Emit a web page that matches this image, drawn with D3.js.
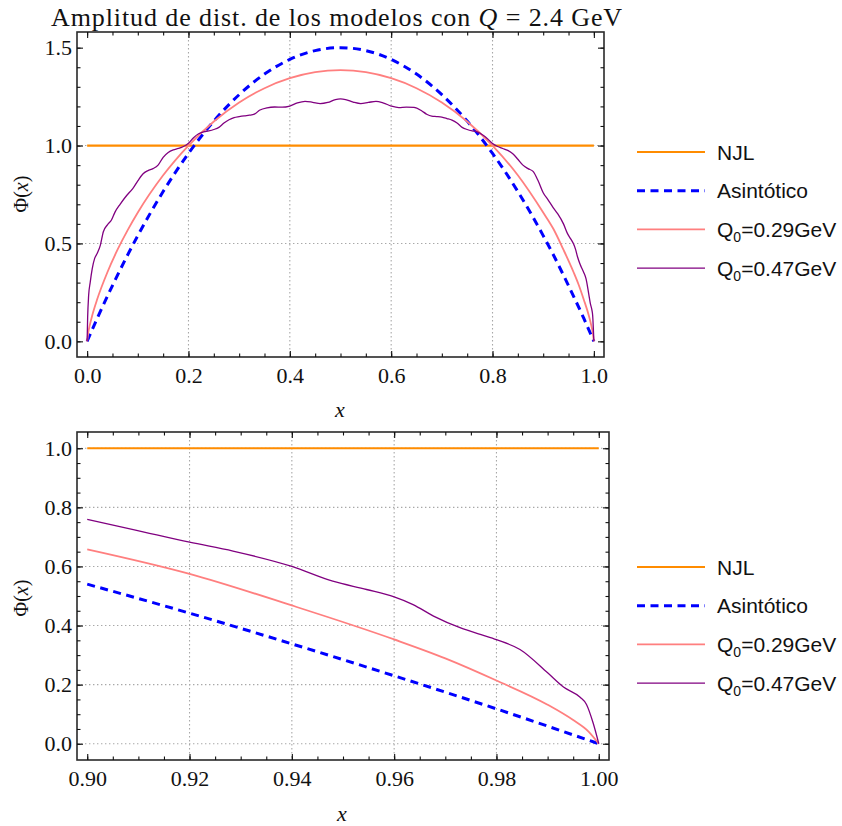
<!DOCTYPE html>
<html>
<head>
<meta charset="utf-8">
<script src="https://cdn.jsdelivr.net/npm/d3@7"></script>
<style>
  body { margin: 0; background: #fff; }
  svg { display: block; }
</style>
</head>
<body>
<svg width="842" height="826"></svg>
<script>
// ----- données -----
const xNJL = [0, 0.9, 1];
const yNJL = [1, 1, 1];

const xAsin = [0, 0.02, 0.05, 0.1, 0.15, 0.2, 0.25, 0.3, 0.35, 0.4, 0.45, 0.5,
  0.55, 0.6, 0.65, 0.7, 0.75, 0.8, 0.85, 0.9, 0.92, 0.94, 0.96, 0.98, 1];
const yAsin = [0, 0.118, 0.285, 0.54, 0.765, 0.96, 1.125, 1.26, 1.365, 1.44, 1.485, 1.5,
  1.485, 1.44, 1.365, 1.26, 1.125, 0.96, 0.765, 0.54, 0.442, 0.338, 0.23, 0.118, 0];

const xQ029 = [0, 0.002, 0.005, 0.01, 0.02, 0.04, 0.06, 0.08, 0.1, 0.15, 0.2, 0.25, 0.3,
  0.35, 0.4, 0.45, 0.5, 0.55, 0.6, 0.65, 0.7, 0.75, 0.8, 0.85, 0.9, 0.92, 0.94, 0.96,
  0.97, 0.98, 0.99, 0.995, 0.998, 1];
const yQ029 = [0, 0.041, 0.08, 0.132, 0.216, 0.353, 0.468, 0.568, 0.658, 0.848, 1.0, 1.123, 1.22,
  1.293, 1.344, 1.375, 1.385, 1.375, 1.344, 1.293, 1.22, 1.123, 1.0, 0.848, 0.658, 0.575, 0.468, 0.353,
  0.289, 0.214, 0.132, 0.08, 0.041, 0];

const xQ047 = [0, 0.001, 0.003, 0.006, 0.01, 0.015, 0.02, 0.026, 0.032, 0.04,
  0.048, 0.055, 0.065, 0.078, 0.09, 0.1, 0.11, 0.12, 0.13, 0.14,
  0.15, 0.16, 0.17, 0.18, 0.19, 0.2, 0.21, 0.22, 0.23, 0.24,
  0.25, 0.26, 0.27, 0.28, 0.29, 0.3, 0.31, 0.32, 0.33, 0.34,
  0.355, 0.37, 0.385, 0.4, 0.415, 0.43, 0.445, 0.46, 0.475, 0.49,
  0.5, 0.51, 0.525, 0.54, 0.555, 0.57, 0.585, 0.6, 0.615, 0.63,
  0.645, 0.66, 0.67, 0.68, 0.69, 0.7, 0.71, 0.72, 0.73, 0.74,
  0.75, 0.76, 0.77, 0.78, 0.79, 0.8, 0.81, 0.82, 0.83, 0.84,
  0.85, 0.86, 0.87, 0.88, 0.89, 0.9, 0.909, 0.92, 0.9285, 0.94,
  0.948, 0.9546, 0.96, 0.9637, 0.9677, 0.973, 0.977, 0.98, 0.9846, 0.99,
  0.9931, 0.9963, 0.9976, 0.9989, 1];
const yQ047 = [0, 0.12, 0.235, 0.3, 0.37, 0.425, 0.45, 0.49, 0.56, 0.595,
  0.62, 0.66, 0.7, 0.745, 0.78, 0.82, 0.855, 0.872, 0.882, 0.9,
  0.94, 0.965, 0.978, 0.985, 0.995, 1.012, 1.04, 1.06, 1.07, 1.075,
  1.082, 1.093, 1.115, 1.132, 1.143, 1.148, 1.152, 1.155, 1.16, 1.18,
  1.193, 1.197, 1.196, 1.202, 1.218, 1.226, 1.221, 1.214, 1.22, 1.235,
  1.238, 1.235, 1.222, 1.214, 1.22, 1.226, 1.217, 1.202, 1.194, 1.196,
  1.195, 1.178, 1.16, 1.15, 1.148, 1.145, 1.138, 1.13, 1.115, 1.093,
  1.082, 1.075, 1.07, 1.055, 1.035, 1.01, 0.995, 0.985, 0.975, 0.958,
  0.93, 0.9, 0.882, 0.868, 0.82, 0.759, 0.725, 0.682, 0.652, 0.6,
  0.55, 0.522, 0.497, 0.471, 0.432, 0.392, 0.369, 0.352, 0.319, 0.24,
  0.192, 0.158, 0.133, 0.07, 0];

const legendLabels = ["NJL", "Asintótico", "Q_0=0.29GeV", "Q_0=0.47GeV"];

// graduations
const xTicksTop = [0, 0.2, 0.4, 0.6, 0.8, 1.0];
const yTicksTop = [0, 0.5, 1.0, 1.5];
const xTicksBot = [0.9, 0.92, 0.94, 0.96, 0.98, 1.0];
const yTicksBot = [0, 0.2, 0.4, 0.6, 0.8, 1.0];

const serif = "'Liberation Serif', 'DejaVu Serif', serif";
const sans = "'Liberation Sans', Arial, sans-serif";

const series = [
  { xs: xNJL, ys: yNJL, color: "#ff8c00", width: 2.2, dash: null },
  { xs: xAsin, ys: yAsin, color: "#0000ff", width: 3, dash: "8,5.5" },
  { xs: xQ029, ys: yQ029, color: "#ff7f7f", width: 1.8, dash: null },
  { xs: xQ047, ys: yQ047, color: "#800080", width: 1.3, dash: null },
];

const panels = [
  {
    left: 77, right: 604, top: 32, bottom: 357,
    xDom: [-0.02, 1.02], yDom: [-0.08, 1.58],
    xTicks: xTicksTop, yTicks: yTicksTop,
    xMinor: d3.range(0, 1.0001, 0.05), yMinor: d3.range(0, 1.5001, 0.1),
    xGrid: [0.2, 0.4, 0.6, 0.8], yGrid: [0.5, 1.0],
    xFmt: d3.format(".1f"), xmin: 0,
    legendY: 152, xLabel: [340, 417], yLabelY: 194,
  },
  {
    left: 77, right: 609, top: 432, bottom: 760,
    xDom: [0.898, 1.002], yDom: [-0.055, 1.055],
    xTicks: xTicksBot, yTicks: yTicksBot,
    xMinor: d3.range(0.9, 1.0001, 0.005), yMinor: d3.range(0, 1.0001, 0.05),
    xGrid: [0.92, 0.94, 0.96, 0.98], yGrid: [0, 0.2, 0.4, 0.6, 0.8, 1.0],
    xFmt: d3.format(".2f"), xmin: 0.9,
    legendY: 567, xLabel: [342, 821], yLabelY: 598,
  },
];

const svg = d3.select("svg");

// titre
const title = svg.append("text")
  .attr("x", 337).attr("y", 26)
  .attr("text-anchor", "middle")
  .attr("font-family", serif).attr("font-size", 26)
  .attr("letter-spacing", 0.9).attr("fill", "#111");
title.append("tspan").text("Amplitud de dist. de los modelos con ");
title.append("tspan").attr("font-style", "italic").text("Q");
title.append("tspan").text(" = 2.4 GeV");

panels.forEach((p) => {
  const x = d3.scaleLinear().domain(p.xDom).range([p.left, p.right]);
  const y = d3.scaleLinear().domain(p.yDom).range([p.bottom, p.top]);
  const g = svg.append("g");

  // grille pointillée
  g.selectAll(".gx").data(p.xGrid).enter().append("line")
    .attr("x1", (d) => x(d)).attr("x2", (d) => x(d))
    .attr("y1", p.top).attr("y2", p.bottom)
    .attr("stroke", "#a8a8a8").attr("stroke-width", 1.1)
    .attr("stroke-dasharray", "1.4,2.6");
  g.selectAll(".gy").data(p.yGrid).enter().append("line")
    .attr("x1", p.left).attr("x2", p.right)
    .attr("y1", (d) => y(d)).attr("y2", (d) => y(d))
    .attr("stroke", "#a8a8a8").attr("stroke-width", 1.1)
    .attr("stroke-dasharray", "1.4,2.6");

  // courbes
  const line = d3.line()
    .x((d) => x(d.x))
    .y((d) => y(d.y))
    .curve(d3.curveMonotoneX);

  series.forEach((s) => {
    const pts = s.xs.map((v, i) => ({ x: v, y: s.ys[i] }))
      .filter((d) => d.x >= p.xmin - 1e-9);
    g.append("path")
      .datum(pts)
      .attr("fill", "none")
      .attr("stroke", s.color)
      .attr("stroke-width", s.width)
      .attr("stroke-dasharray", s.dash)
      .attr("stroke-linejoin", "round")
      .attr("d", line);
  });

  // cadre
  g.append("rect")
    .attr("x", p.left).attr("y", p.top)
    .attr("width", p.right - p.left).attr("height", p.bottom - p.top)
    .attr("fill", "none").attr("stroke", "#2a2a2a").attr("stroke-width", 1.6);

  const styleAxis = (sel) => {
    sel.select(".domain").remove();
    sel.selectAll("line").attr("stroke", "#111").attr("stroke-width", 1.1);
    sel.selectAll("text").attr("font-family", serif).attr("font-size", 22).attr("fill", "#111");
  };

  // axes principaux (ticks vers l'intérieur)
  g.append("g").attr("transform", "translate(0," + p.bottom + ")")
    .call(d3.axisBottom(x).tickValues(p.xTicks).tickFormat(p.xFmt)
      .tickSizeInner(-6).tickSizeOuter(0).tickPadding(10))
    .call(styleAxis);
  g.append("g").attr("transform", "translate(" + p.left + ",0)")
    .call(d3.axisLeft(y).tickValues(p.yTicks).tickFormat(d3.format(".1f"))
      .tickSizeInner(-6).tickSizeOuter(0).tickPadding(5))
    .call(styleAxis);
  g.append("g").attr("transform", "translate(0," + p.top + ")")
    .call(d3.axisTop(x).tickValues(p.xTicks).tickFormat("")
      .tickSizeInner(-6).tickSizeOuter(0))
    .call(styleAxis);
  g.append("g").attr("transform", "translate(" + p.right + ",0)")
    .call(d3.axisRight(y).tickValues(p.yTicks).tickFormat("")
      .tickSizeInner(-6).tickSizeOuter(0))
    .call(styleAxis);

  // ticks mineurs
  [[d3.axisBottom(x), p.xMinor, "0," + p.bottom],
   [d3.axisTop(x), p.xMinor, "0," + p.top],
   [d3.axisLeft(y), p.yMinor, p.left + ",0"],
   [d3.axisRight(y), p.yMinor, p.right + ",0"]].forEach(([ax, vals, tr]) => {
    g.append("g").attr("transform", "translate(" + tr + ")")
      .call(ax.tickValues(vals).tickFormat("").tickSizeInner(-3.5).tickSizeOuter(0))
      .call(styleAxis);
  });

  // titres des axes
  const yl = g.append("text")
    .attr("transform", "translate(28," + p.yLabelY + ") rotate(-90)")
    .attr("text-anchor", "middle")
    .attr("font-family", serif).attr("font-size", 20).attr("fill", "#111");
  yl.append("tspan").text("Φ(");
  yl.append("tspan").attr("font-style", "italic").text("x");
  yl.append("tspan").text(")");

  g.append("text")
    .attr("x", p.xLabel[0]).attr("y", p.xLabel[1])
    .attr("text-anchor", "middle")
    .attr("font-family", serif).attr("font-style", "italic")
    .attr("font-size", 22).attr("fill", "#111")
    .text("x");

  // légende
  const leg = g.append("g");
  series.forEach((s, i) => {
    const ly = p.legendY + i * 38.7;
    leg.append("line")
      .attr("x1", 637).attr("x2", 705).attr("y1", ly).attr("y2", ly)
      .attr("stroke", s.color).attr("stroke-width", s.width)
      .attr("stroke-dasharray", s.dash);
    const t = leg.append("text")
      .attr("x", 717).attr("y", ly).attr("dy", "0.36em")
      .attr("font-family", sans).attr("font-size", 21).attr("fill", "#111");
    const parts = legendLabels[i].split("_");
    if (parts.length === 1) {
      t.text(parts[0]);
    } else {
      t.append("tspan").text(parts[0]);
      t.append("tspan").attr("font-size", 14).attr("dy", 5).text(parts[1].charAt(0));
      t.append("tspan").attr("dy", -5).text(parts[1].slice(1));
    }
  });
});
</script>
</body>
</html>
